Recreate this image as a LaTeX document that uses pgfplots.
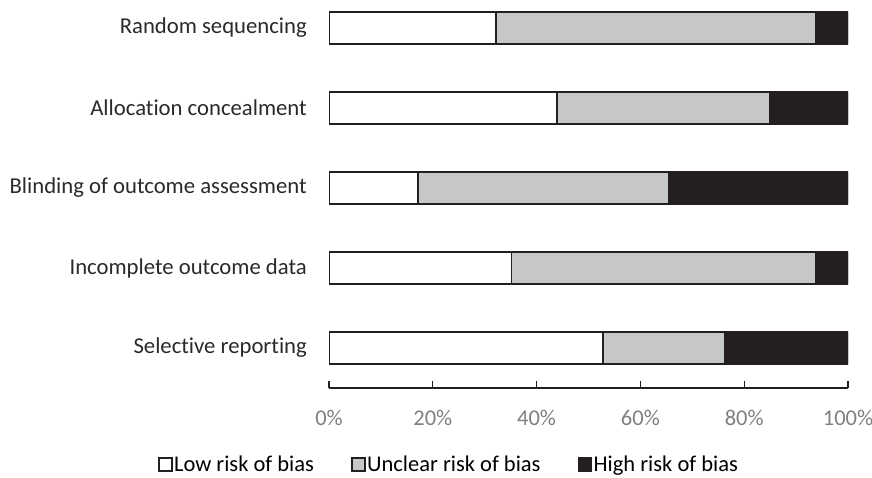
\documentclass[border=0pt]{standalone}
\usepackage{pgfplots}
\pgfplotsset{compat=1.18}
\usepackage{fontspec}
\setmainfont{Carlito}[Ligatures=NoCommon]

\definecolor{barline}{HTML}{231F20}
\definecolor{unclear}{HTML}{C6C7C8}
\definecolor{ticktext}{HTML}{808080}
\definecolor{cattext}{HTML}{2A2A2A}

\begin{document}
\begin{tikzpicture}
\useasboundingbox (0,0) rectangle (872pt,477pt);
\begin{axis}[
    at={(329pt,89pt)}, anchor=south west,
    scale only axis,
    width=519pt, height=388pt,
    xbar stacked,
    bar width=32.5pt,
    xmin=0, xmax=100,
    ymin=-0.5, ymax=4.35,
    axis x line*=bottom,
    axis y line*=left,
    y axis line style={draw=none},
    x axis line style={draw=barline, line width=1.3pt},
    xtick={0,20,...,100},
    xticklabel={\pgfmathprintnumber{\tick}\%},
    /pgf/number format/assume math mode=true,
    tick align=inside,
    major tick length=7pt,
    xtick style={draw=barline, line width=1.3pt},
    ytick style={draw=none},
    xticklabel style={text=ticktext, font=\fontsize{22.5}{26}\selectfont, yshift=-19pt},
    ytick={0,1,2,3,4},
    yticklabels={Selective reporting, Incomplete outcome data, Blinding of outcome assessment, Allocation concealment, Random sequencing},
    yticklabel style={text=cattext, font=\fontsize{22.7}{26}\selectfont, inner sep=0pt, xshift=-22pt},
    legend style={at={(0.231,-0.197)}, anchor=center, draw=none, fill=none,
        font=\fontsize{22.5}{26}\selectfont, legend columns=3,
        /tikz/every even column/.append style={column sep=36pt},
        nodes={inner sep=1.5pt}},
    legend image code/.code={\draw[#1, draw=barline, line width=1.2pt] (0pt,-6.5pt) rectangle (13pt,6.5pt);},
]
\addplot[fill=white, draw=barline, line width=1.6pt] coordinates {(52.8,0) (35.2,1) (17.1,2) (43.9,3) (32.2,4)};
\addlegendentry{Low risk of bias}
\addplot[fill=unclear, draw=barline, line width=1.6pt] coordinates {(23.4,0) (58.6,1) (48.3,2) (41.1,3) (61.6,4)};
\addlegendentry{Unclear risk of bias}
\addplot[fill=barline, draw=barline, line width=1.6pt] coordinates {(23.8,0) (6.2,1) (34.6,2) (15.0,3) (6.2,4)};
\addlegendentry{High risk of bias}
\end{axis}
\end{tikzpicture}
\end{document}
